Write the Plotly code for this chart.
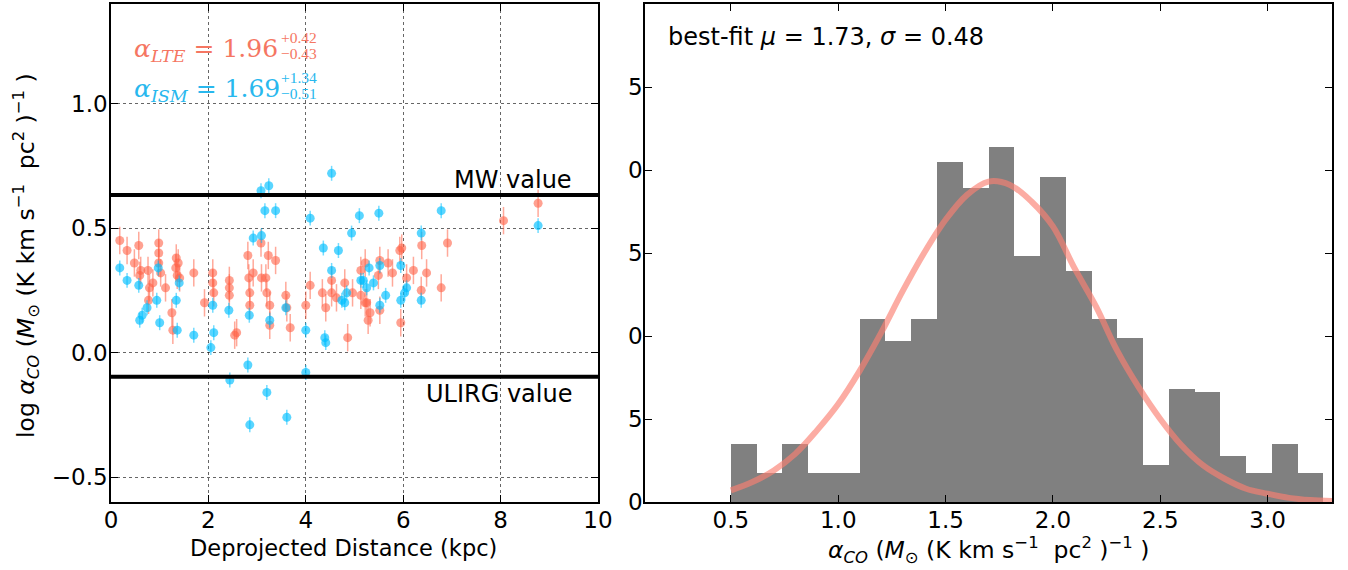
import plotly.graph_objects as go

# ---------------- data ----------------
lte_x = [0.18, 0.33, 0.57, 0.48, 0.61, 0.76, 0.59, 0.86, 0.79, 0.98, 0.98, 0.98, 1.02, 1.12, 0.77,
         1.34, 1.38, 1.33, 1.36, 1.41, 1.70, 1.25, 1.27, 1.92, 2.09, 2.09, 2.11, 2.43, 2.43, 2.43,
         2.54, 2.58, 2.81, 3.08, 3.23, 3.38, 2.83, 2.92, 3.09, 3.18, 2.85, 3.20, 2.85, 3.26, 3.59,
         3.61, 3.26, 3.68, 4.00, 4.09, 4.34, 4.41, 4.53, 4.53, 4.63, 4.80, 4.96, 5.13, 5.25, 4.86,
         5.22, 5.13, 5.93, 5.97, 6.38, 6.91, 5.52, 5.69, 5.78, 5.49, 6.07, 6.21, 6.48, 6.37, 6.78,
         5.22, 5.32, 5.52, 5.28, 5.95, 8.06, 8.77]
lte_y = [0.45, 0.41, 0.43, 0.36, 0.33, 0.33, 0.31, 0.28, 0.26, 0.44, 0.40, 0.36, 0.32, 0.26, 0.21,
         0.38, 0.36, 0.34, 0.31, 0.30, 0.32, 0.16, 0.09, 0.20, 0.32, 0.28, 0.24, 0.29, 0.26, 0.23,
         0.07, 0.08, 0.39, 0.44, 0.39, 0.37, 0.30, 0.32, 0.30, 0.30, 0.24, 0.24, 0.19, 0.19, 0.23,
         0.18, 0.11, 0.10, 0.19, 0.27, 0.24, 0.18, 0.29, 0.24, 0.22, 0.28, 0.24, 0.23, 0.20, 0.06,
         0.36, 0.33, 0.41, 0.42, 0.43, 0.44, 0.37, 0.36, 0.32, 0.31, 0.30, 0.33, 0.32, 0.25, 0.26,
         0.20, 0.16, 0.17, 0.13, 0.12, 0.53, 0.60]
ism_x = [0.18, 0.33, 0.57, 0.59, 0.64, 0.74, 0.94, 0.97, 1.00, 1.34, 1.36, 1.40, 1.70, 2.09, 2.11,
         2.05, 2.42, 2.44, 2.81, 2.84, 2.85, 2.92, 3.08, 3.09, 3.16, 3.20, 3.24, 3.26, 3.38, 3.59,
         3.61, 4.00, 4.00, 4.09, 4.36, 4.39, 4.41, 4.53, 4.53, 4.67, 4.74, 4.80, 4.84, 4.94, 5.10,
         5.13, 5.18, 5.25, 5.30, 5.39, 5.50, 5.52, 5.52, 5.64, 5.95, 5.95, 6.03, 6.07, 6.37, 6.37,
         6.78, 8.77]
ism_y = [0.34, 0.29, 0.27, 0.13, 0.15, 0.18, 0.21, 0.34, 0.12, 0.21, 0.09, 0.28, 0.07, 0.19, 0.08,
         0.02, 0.17, -0.11, -0.05, 0.15, -0.29, 0.46, 0.65, 0.47, 0.57, -0.16, 0.67, 0.13, 0.57, 0.18,
         -0.26, 0.09, -0.08, 0.54, 0.42, 0.06, 0.04, 0.72, 0.33, 0.41, 0.21, 0.20, 0.24, 0.48, 0.55,
         0.29, 0.29, 0.26, 0.34, 0.28, 0.56, 0.35, 0.19, 0.23, 0.35, 0.21, 0.24, 0.26, 0.48, 0.21,
         0.57, 0.51]
lte_err = 0.055
ism_err = 0.03
mw_log = 0.633
ulirg_log = -0.097

hist_first_edge = 0.50
hist_bin_width = 0.12
hist_heights = [3.5, 1.75, 3.5, 1.75, 1.75, 11.0, 9.7, 11.0, 20.5, 18.9, 21.4, 14.8, 19.6, 13.9,
                11.0, 9.9, 2.2, 6.8, 6.6, 2.8, 1.75, 3.5, 1.75]
fit_x = [0.50, 0.60, 0.70, 0.80, 0.90, 1.00, 1.10, 1.20, 1.30, 1.40, 1.50, 1.60, 1.70, 1.80, 1.90,
         2.00, 2.10, 2.20, 2.30, 2.40, 2.50, 2.60, 2.70, 2.80, 2.90, 3.00, 3.10, 3.20, 3.30]
fit_y = [0.7, 1.2, 1.9, 2.9, 4.3, 5.9, 7.9, 10.2, 12.7, 15.0, 17.0, 18.5, 19.3, 19.1, 18.1,
         16.6, 14.1, 11.8, 9.1, 6.9, 5.0, 3.4, 2.2, 1.4, 0.8, 0.5, 0.25, 0.12, 0.06]

left_xticks = [0, 2, 4, 6, 8, 10]
left_yticks = [-0.5, 0.0, 0.5, 1.0]
left_yticktext = ["\u22120.5", "0.0", "0.5", "1.0"]
right_xticks = [0.5, 1.0, 1.5, 2.0, 2.5, 3.0]
right_xticktext = ["0.5", "1.0", "1.5", "2.0", "2.5", "3.0"]
right_yticks = [0, 5, 10, 15, 20, 25]
right_yticktext = ["0", "5", "0", "5", "0", "5"]

# ---------------- figure ----------------
W, H = 1348, 570

def px(x):
    return x / W

def py(y):
    return 1 - y / H

LTE_MARK = "rgba(255,99,71,0.6)"
ISM_MARK = "rgba(0,191,255,0.65)"
FONT = "DejaVu Sans"

fig = go.Figure()
fig.add_trace(go.Scatter(
    x=lte_x, y=lte_y, mode="markers", xaxis="x", yaxis="y",
    marker=dict(size=9, color=LTE_MARK, line=dict(width=0)),
    error_y=dict(type="constant", value=lte_err, color="rgba(255,99,71,0.55)", thickness=1.5, width=0),
    showlegend=False))
fig.add_trace(go.Scatter(
    x=ism_x, y=ism_y, mode="markers", xaxis="x", yaxis="y",
    marker=dict(size=9, color=ISM_MARK, line=dict(width=0)),
    error_y=dict(type="constant", value=ism_err, color="rgba(0,191,255,0.55)", thickness=1.5, width=0),
    showlegend=False))

centers = [hist_first_edge + hist_bin_width * (i + 0.5) for i in range(len(hist_heights))]
fig.add_trace(go.Bar(x=centers, y=hist_heights, width=hist_bin_width, xaxis="x2", yaxis="y2",
                     marker=dict(color="#808080", line=dict(width=0)), showlegend=False))
fig.add_trace(go.Scatter(x=fit_x, y=fit_y, mode="lines", xaxis="x2", yaxis="y2",
                         line=dict(color="rgba(250,128,114,0.65)", width=6, shape="spline"),
                         showlegend=False))

axis_common = dict(showline=True, linecolor="black", linewidth=1.5, mirror="ticks",
                   ticks="inside", ticklen=7, tickwidth=1, tickcolor="black", automargin=False,
                   tickfont=dict(family=FONT, size=23, color="black"), zeroline=False)

fig.update_layout(
    width=W, height=H, autosize=False,
    margin=dict(l=0, r=0, t=0, b=0, autoexpand=False),
    paper_bgcolor="white", plot_bgcolor="white",
    bargap=0,
    xaxis=dict(domain=[px(111), px(598)], range=[0, 10], tickvals=left_xticks,
               ticklabelstandoff=-3,
               showgrid=True, gridcolor="rgba(0,0,0,0.6)", griddash="dot", gridwidth=1,
               anchor="y", **axis_common),
    yaxis=dict(domain=[py(502), py(4)], range=[-0.6, 1.4], tickvals=left_yticks,
               ticktext=left_yticktext, ticklabelstandoff=-3,
               showgrid=True, gridcolor="rgba(0,0,0,0.6)", griddash="dot", gridwidth=1,
               anchor="x", **axis_common),
    xaxis2=dict(domain=[px(645), px(1332)], range=[0.1, 3.3], tickvals=right_xticks,
                ticktext=right_xticktext, ticklabelstandoff=-3,
                showgrid=False, anchor="y2", **axis_common),
    yaxis2=dict(domain=[py(502), py(4)], range=[0, 30], tickvals=right_yticks,
                ticktext=right_yticktext, ticklabelstandoff=-4,
                showgrid=False, anchor="x2", **axis_common),
)

# reference lines
for yv in (mw_log, ulirg_log):
    fig.add_shape(type="line", xref="x domain", yref="y", x0=0, x1=1, y0=yv, y1=yv,
                  line=dict(color="black", width=4))

ann = []

def add(text, x, y, size, color="black", family=FONT, xanchor="left", yanchor="middle", angle=0):
    ann.append(dict(text=text, x=px(x), y=py(y), xref="paper", yref="paper", showarrow=False,
                    xanchor=xanchor, yanchor=yanchor, textangle=angle,
                    font=dict(family=family, size=size, color=color)))

SERIF = "DejaVu Serif"
SCRIPT = "Liberation Serif"
LTE_TXT = "rgb(245,118,98)"
ISM_TXT = "rgb(40,184,238)"
add("<i>α</i><sub><i>LTE</i></sub> = 1.96", 132, 50, 25, LTE_TXT, SERIF)
add("+0.42", 279, 38, 15.5, LTE_TXT, SCRIPT)
add("\u22120.43", 279, 54, 15.5, LTE_TXT, SCRIPT)
add("<i>α</i><sub><i>ISM</i></sub> = 1.69", 132, 90, 25, ISM_TXT, SERIF)
add("+1.34", 279, 78, 15.5, ISM_TXT, SCRIPT)
add("\u22120.51", 279, 93, 15.5, ISM_TXT, SCRIPT)

add("MW value", 574, 180, 24, xanchor="right")
add("ULIRG value", 574, 394, 24, xanchor="right")
add("best-fit <i>μ</i> = 1.73, <i>σ</i> = 0.48", 666, 37, 24)

add("Deprojected Distance (kpc)", 343, 548, 22.5, xanchor="center")
add("<i>α</i><sub><i>CO</i></sub> (<i>M</i><sub>⊙</sub> (K km s<sup>−1</sup>  pc<sup>2</sup> )<sup>−1</sup> )",
    988, 550, 23.5, xanchor="center")
add("log <i>α</i><sub><i>CO</i></sub> (<i>M</i><sub>⊙</sub> (K km s<sup>−1</sup>  pc<sup>2</sup> )<sup>−1</sup> )",
    26, 256, 23.5, xanchor="center", angle=-90)

fig.update_layout(annotations=ann)
fig.write_html("out.html")
